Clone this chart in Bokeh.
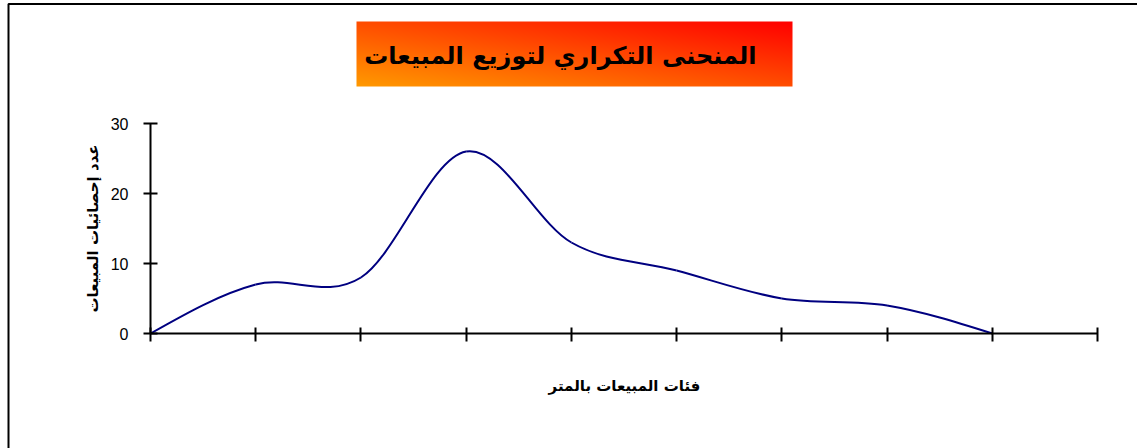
import numpy as np
from bokeh.plotting import figure
from bokeh.models import (Range1d, FixedTicker, Label, BoxAnnotation, LinearAxis)
from bokeh.embed import file_html
from bokeh.resources import INLINE

# ---- data -------------------------------------------------------------
class_index = [0, 1, 2, 3, 4, 5, 6, 7, 8]          # position of each sales class on the x axis
frequency = [0, 7, 8, 26, 13, 9, 5, 4, 0]          # number of sales per class
x_ticks = [0, 1, 2, 3, 4, 5, 6, 7, 8, 9]
y_ticks = [0, 10, 20, 30]

title_text = "المنحنى التكراري  لتوزيع المبيعات"
x_title = "فئات المبيعات بالمتر"
y_title = "عدد إحصائيات المبيعات"

# ---- page geometry (pixels) -------------------------------------------
W, H = 1137, 448
ORIGIN_X, ORIGIN_Y = 150, 333        # where the axes cross
PX_PER_X = (1097 - 150) / 9.0
PX_PER_Y = 7.0


def to_data(px, py):
    """canvas pixel (from top-left) -> data coordinate"""
    return ((px - ORIGIN_X) / PX_PER_X, (ORIGIN_Y - py) / PX_PER_Y)


x0, y1 = to_data(0, 0)
x1, y0 = to_data(W, H)

# the plotting frame fills the whole page; axes are pinned at the origin
p = figure(width=W, height=H, x_range=Range1d(x0, x1), y_range=Range1d(y0, y1),
           x_axis_location=None, y_axis_location=None,
           min_border=0, output_backend="svg", toolbar_location=None,
           background_fill_color="white", border_fill_color="white")
p.outline_line_color = None
p.xgrid.visible = False
p.ygrid.visible = False

# ---- axes -------------------------------------------------------------
xa = LinearAxis(fixed_location=0, ticker=FixedTicker(ticks=x_ticks), bounds=(0, 9),
                major_label_overrides={t: "" for t in x_ticks},
                axis_line_width=2, major_tick_line_width=2,
                major_tick_in=6, major_tick_out=8, minor_tick_line_color=None)
p.add_layout(xa, "below")

ya = LinearAxis(fixed_location=0, ticker=FixedTicker(ticks=y_ticks), bounds=(0, 30),
                axis_line_width=2, major_tick_line_width=2,
                major_tick_in=7, major_tick_out=7, minor_tick_line_color=None,
                major_label_text_font="Liberation Sans",
                major_label_text_font_size="16px",
                major_label_text_color="black", major_label_standoff=15)
p.add_layout(ya, "left")

# ---- smoothed frequency curve (cubic Bezier segments through the points) ----
xs = np.array(class_index, dtype=float)
ys = np.array(frequency, dtype=float)
n = len(xs)
m = np.zeros(n)
m[1:-1] = (ys[2:] - ys[:-2]) / (xs[2:] - xs[:-2])
m[0] = 1.5 * (ys[1] - ys[0]) / (xs[1] - xs[0]) - 0.5 * m[1]
m[-1] = 1.5 * (ys[-1] - ys[-2]) / (xs[-1] - xs[-2]) - 0.5 * m[-2]
dx = xs[1:] - xs[:-1]
p.bezier(x0=xs[:-1], y0=ys[:-1], x1=xs[1:], y1=ys[1:],
         cx0=xs[:-1] + dx / 3, cy0=ys[:-1] + m[:-1] * dx / 3,
         cx1=xs[1:] - dx / 3, cy1=ys[1:] - m[1:] * dx / 3,
         line_color="#000080", line_width=2)

# ---- title box with diagonal orange-to-red gradient ----------------------
bx0, by0, bx1, by1 = 356, 21, 792, 86
gw, gh = bx1 - bx0, by1 - by0
u = np.linspace(0, 1, gw)[None, :]
v = np.linspace(0, 1, gh)[:, None]          # row 0 is the bottom of the image
t = np.clip((u + v) / 2, 0, 1)
img = np.zeros((gh, gw), dtype=np.uint32)
view = img.view(dtype=np.uint8).reshape((gh, gw, 4))
view[:, :, 0] = 255
view[:, :, 1] = np.round(153 * (1 - t)).astype(np.uint8)
view[:, :, 2] = 0
view[:, :, 3] = 255
ix0, iy0 = to_data(bx0, by1)
ix1, iy1 = to_data(bx1, by0)
p.image_rgba(image=[img], x=ix0, y=iy0, dw=ix1 - ix0, dh=iy1 - iy0)

tx, ty = to_data(564, 55)
p.add_layout(Label(x=tx, y=ty, text=title_text, text_font="DejaVu Sans",
                   text_font_style="bold", text_font_size="24px", text_color="black",
                   text_align="center", text_baseline="middle"))

# ---- axis titles ---------------------------------------------------------
lx, ly = to_data(624, 385)
p.add_layout(Label(x=lx, y=ly, text=x_title, text_font="DejaVu Sans",
                   text_font_style="bold", text_font_size="15px", text_color="black",
                   text_align="center", text_baseline="middle"))
vx, vy = to_data(92, 228)
p.add_layout(Label(x=vx, y=vy, text=y_title, text_font="DejaVu Sans", angle=np.pi / 2,
                   text_font_style="bold", text_font_size="15px", text_color="black",
                   text_align="center", text_baseline="middle"))

# ---- outer chart border (left and top edges fall on the page) -------------
bl, bt = to_data(8, 3.5)
br, bb = to_data(W + 50, H + 50)
p.add_layout(BoxAnnotation(left=bl, right=br, top=bt, bottom=bb,
                           fill_alpha=0, line_color="black", line_alpha=1.0,
                           line_width=2))

open("out.html", "w").write(file_html(p, INLINE))
